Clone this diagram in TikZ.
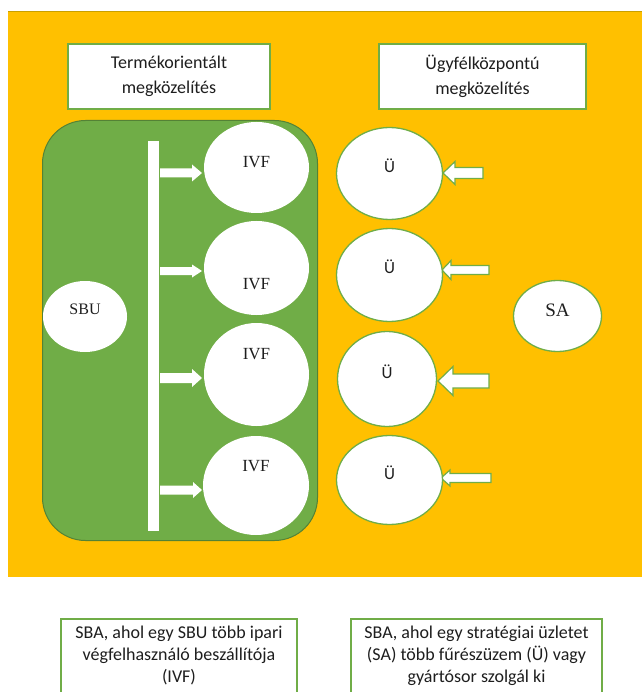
\documentclass[tikz,border=0pt]{standalone}
\usepackage{fontspec}
\setmainfont{Liberation Serif}
\newfontfamily\calibri{Carlito}
\usetikzlibrary{shapes.geometric}
\definecolor{bgorange}{HTML}{FFC000}
\definecolor{leafgreen}{HTML}{70AD47}
\definecolor{darkleaf}{HTML}{548235}
\definecolor{edgeorange}{HTML}{C9A000}
\definecolor{inkgray}{HTML}{1E1E1E}

% block arrow: style, tail x, tip x, y, shaft half height, head half height, head length (signed)
\newcommand\blockarrow[7]{%
  \path[#1] (#2,#4-#5) -- ({#3-(#7)},#4-#5) -- ({#3-(#7)},#4-#6) -- (#3,#4)
    -- ({#3-(#7)},#4+#6) -- ({#3-(#7)},#4+#5) -- (#2,#4+#5) -- cycle;}

\tikzset{
  labelbox/.style={draw=leafgreen, line width=2pt, fill=white, align=center, text=inkgray,
    font=\calibri\fontsize{18}{25}\selectfont, inner sep=0pt},
  framebox/.style={draw=leafgreen, line width=2pt, fill=white, inner sep=0pt},
  notetext/.style={align=center, text=inkgray, font=\calibri\fontsize{18}{22}\selectfont, inner sep=0pt},
  whiteblob/.style={ellipse, fill=white, inner sep=0pt},
  outlinedblob/.style={whiteblob, draw=leafgreen, line width=1.3pt},
  serifname/.style={font=\fontsize{17}{20}\selectfont, text=inkgray, inner sep=0pt},
  sansname/.style={font=\calibri\fontsize{17}{20}\selectfont, text=inkgray, inner sep=0pt},
  plainarrow/.style={fill=white},
  rimarrow/.style={fill=white, draw=leafgreen, line width=1.2pt, line join=miter},
}

\begin{document}
\begin{tikzpicture}[x=1pt,y=-1pt]
\clip (0,0) rectangle (642,692);
\fill[white] (0,0) rectangle (642,692);
\fill[bgorange] (8,11) rectangle (642,577);
\draw[edgeorange, line width=0.7pt] (8,11.3) -- (642,11.3);

% headings
\node[labelbox, minimum width=202pt, minimum height=65pt] (prodtitle) at (169,76.5)
  {Termékorientált\\megközelítés};
\node[labelbox, minimum width=207pt, minimum height=65pt] (custtitle) at (482.5,76.5)
  {Ügyfélközpontú\\megközelítés};

% product oriented zone
\node[draw=darkleaf, line width=1pt, fill=leafgreen, rounded corners=43pt,
  minimum width=275pt, minimum height=420pt, inner sep=0pt] (prodzone) at (180,330.5) {};
\node[fill=white, minimum width=11pt, minimum height=390pt, inner sep=0pt] (feedbar) at (153.5,336) {};

\blockarrow{plainarrow}{160}{202}{173}{4.5}{8.5}{10}
\blockarrow{plainarrow}{160}{202}{271}{4}{6.5}{10}
\blockarrow{plainarrow}{160}{202}{378}{5}{9}{10}
\blockarrow{plainarrow}{160}{202}{490}{4.5}{8}{9}

\node[whiteblob, minimum width=105pt, minimum height=91pt] (ivf1) at (256.5,167.5) {};
\node[whiteblob, minimum width=105pt, minimum height=94pt] (ivf2) at (256.5,268) {};
\node[whiteblob, minimum width=105pt, minimum height=103pt] (ivf3) at (256.5,374.5) {};
\node[whiteblob, minimum width=106pt, minimum height=99pt] (ivf4) at (256,485.5) {};
\node[whiteblob, minimum width=84pt, minimum height=71pt] (sbu) at (85,316.5) {};

\node[serifname] at ([yshift=5pt]ivf1.center) {IVF};
\node[serifname] at ([yshift=-16pt]ivf2.center) {IVF};
\node[serifname] at ([yshift=20.5pt]ivf3.center) {IVF};
\node[serifname] at ([yshift=19.5pt]ivf4.center) {IVF};
\node[serifname, font=\fontsize{16}{19}\selectfont] at ([yshift=7.5pt]sbu.center) {SBU};

% customer oriented side
\blockarrow{rimarrow}{483}{443}{173}{5.5}{11.5}{-12}
\blockarrow{rimarrow}{489}{442}{270}{4.5}{9.5}{-9}
\blockarrow{rimarrow}{489}{438}{381}{7}{14.5}{-15}
\blockarrow{rimarrow}{491}{441}{478}{4.5}{8}{-9}

\node[outlinedblob, minimum width=106pt, minimum height=92pt] (mill1) at (389.5,173.5) {};
\node[outlinedblob, minimum width=106pt, minimum height=93pt] (mill2) at (389.5,275) {};
\node[outlinedblob, minimum width=99pt, minimum height=95pt] (mill3) at (387,379) {};
\node[outlinedblob, minimum width=106pt, minimum height=89pt] (mill4) at (389.5,480) {};
\node[outlinedblob, minimum width=88pt, minimum height=71pt] (sa) at (557.5,316) {};

\node[sansname] at ([yshift=7.5pt]mill1.center) {Ü};
\node[sansname] at ([yshift=8pt]mill2.center) {Ü};
\node[sansname] at ([yshift=7pt]mill3.center) {Ü};
\node[sansname] at ([yshift=7pt]mill4.center) {Ü};
\node[serifname, font=\fontsize{19}{22}\selectfont] at ([yshift=6pt]sa.center) {SA};

% captions
\node[framebox, anchor=north west, minimum width=236pt, minimum height=100pt] (prodnote) at (60,618) {};
\node[notetext, anchor=north] at ([yshift=-8pt]prodnote.north)
  {SBA, ahol egy SBU több ipari\\végfelhasználó beszállítója\\(IVF)};
\node[framebox, anchor=north west, minimum width=251pt, minimum height=100pt] (custnote) at (350,618) {};
\node[notetext, anchor=north] at ([yshift=-8pt]custnote.north)
  {SBA, ahol egy stratégiai üzletet\\(SA) több fűrészüzem (Ü) vagy\\gyártósor szolgál ki};
\end{tikzpicture}
\end{document}
